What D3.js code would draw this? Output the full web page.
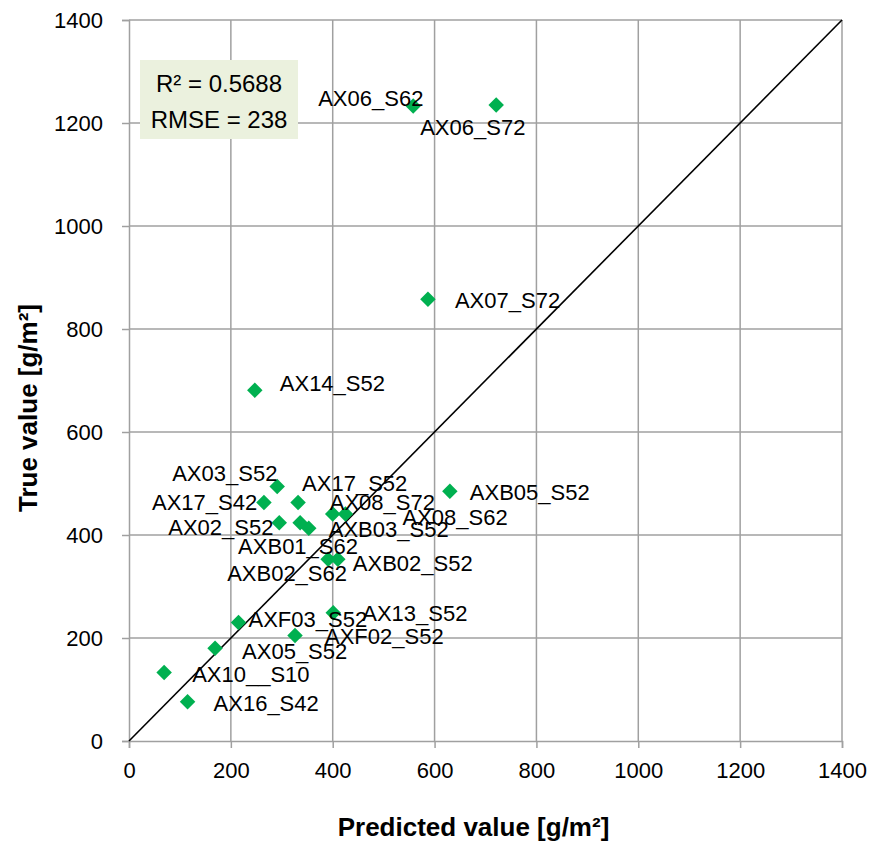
<!DOCTYPE html>
<html>
<head>
<meta charset="utf-8">
<script src="https://cdn.jsdelivr.net/npm/d3@7"></script>
<style>
  html, body { margin: 0; padding: 0; background: #fff; }
  svg text { font-family: "Liberation Sans", Arial, sans-serif; fill: #000; }
</style>
</head>
<body>
<svg id="chart" width="871" height="843"></svg>
<script>
// Sample identifiers, model predictions and measured values (g/m²)
const sampleNames = [
  "AX06_S62", "AX06_S72", "AX07_S72", "AX14_S52", "AX03_S52", "AX17_S42", "AX17_S52",
  "AX02_S52", "AXB01_S62", "AXB03_S52", "AX08_S72", "AX08_S62", "AXB05_S52",
  "AXB02_S62", "AXB02_S52", "AX13_S52", "AXF03_S52", "AXF02_S52", "AX05_S52",
  "AX10__S10", "AX16_S42"
];
const predictedValues = [
  558, 721, 587, 247, 291, 265, 332,
  295, 336, 353, 400, 425, 630,
  391, 410, 401, 215, 326, 169,
  69, 115
];
const trueValues = [
  1233, 1235, 858, 681, 494, 463, 463,
  424, 424, 413, 441, 441, 485,
  353, 353, 249, 230, 205, 180,
  133, 76
];
const tickValues = [0, 200, 400, 600, 800, 1000, 1200, 1400];
const statsLines = ["R² = 0.5688", "RMSE = 238"];
const xTitle = "Predicted value [g/m²]";
const yTitle = "True value [g/m²]";

// Hand-placed label offsets (px) relative to each marker, to keep the crowded cluster readable
const labelOffset = {
  "AX06_S62": [-95, -8], "AX06_S72": [-76, 22], "AX07_S72": [27, 1], "AX14_S52": [25, -7],
  "AX03_S52": [-105, -14], "AX17_S42": [-112, 0], "AX17_S52": [4, -19], "AX02_S52": [-111, 4],
  "AXB01_S62": [-62, 23], "AXB03_S52": [20, 1], "AX08_S72": [-3, -12], "AX08_S62": [57, 3],
  "AXB05_S52": [20, 1], "AXB02_S62": [-101, 14], "AXB02_S52": [15, 4], "AX13_S52": [29, 0],
  "AXF03_S52": [10, -3], "AXF02_S52": [30, 1], "AX05_S52": [27, 3], "AX10__S10": [28, 2],
  "AX16_S42": [26, 1]
};

const points = sampleNames.map((name, i) => ({ name, pred: predictedValues[i], obs: trueValues[i] }));

const svg = d3.select("#chart");
const margin = { left: 129, right: 29, top: 20, bottom: 102 };
const W = 871, H = 843;
const x = d3.scaleLinear().domain([0, 1400]).range([margin.left, W - margin.right]);
const y = d3.scaleLinear().domain([0, 1400]).range([H - margin.bottom, margin.top]);

const gridColor = "#a0a0a0";

// Gridlines
const grid = svg.append("g");
grid.selectAll(".gx").data(tickValues.slice(1)).join("line")
  .attr("x1", d => x(d)).attr("x2", d => x(d))
  .attr("y1", y(0)).attr("y2", y(1400))
  .attr("stroke", gridColor).attr("stroke-width", 1.5);
grid.selectAll(".gy").data(tickValues.slice(1)).join("line")
  .attr("x1", x(0)).attr("x2", x(1400))
  .attr("y1", d => y(d)).attr("y2", d => y(d))
  .attr("stroke", gridColor).attr("stroke-width", 1.5);

// Axes
const xAxis = svg.append("g").attr("transform", `translate(0,${y(0)})`)
  .call(d3.axisBottom(x).tickValues(tickValues).tickSize(7).tickPadding(14).tickFormat(d3.format("d")));
const yAxis = svg.append("g").attr("transform", `translate(${x(0)},0)`)
  .call(d3.axisLeft(y).tickValues(tickValues).tickSize(7).tickPadding(19).tickFormat(d3.format("d")));
[xAxis, yAxis].forEach(a => {
  a.select(".domain").attr("stroke", gridColor).attr("stroke-width", 1.5);
  a.selectAll(".tick line").attr("stroke", gridColor).attr("stroke-width", 1.5);
  a.selectAll(".tick text").attr("font-size", 22).attr("font-family", "Liberation Sans, Arial, sans-serif").attr("fill", "#000");
});

// 1:1 reference line
svg.append("line")
  .attr("x1", x(0)).attr("y1", y(0)).attr("x2", x(1400)).attr("y2", y(1400))
  .attr("stroke", "#000").attr("stroke-width", 1.6);

// Markers (diamonds)
const diamond = d3.symbol().type(d3.symbolSquare).size(120);
svg.append("g").selectAll("path").data(points).join("path")
  .attr("d", diamond)
  .attr("transform", d => `translate(${x(d.pred)},${y(d.obs)}) rotate(45)`)
  .attr("fill", "#00b050");

// Point labels
svg.append("g").selectAll("text").data(points).join("text")
  .attr("x", d => x(d.pred) + labelOffset[d.name][0])
  .attr("y", d => y(d.obs) + labelOffset[d.name][1])
  .attr("dy", "0.36em")
  .attr("font-size", 22)
  .text(d => d.name);

// Statistics box
const box = svg.append("g");
box.append("rect").attr("x", 140).attr("y", 60).attr("width", 158).attr("height", 79).attr("fill", "#ebf1de");
box.selectAll("text").data(statsLines).join("text")
  .attr("x", 219).attr("y", (d, i) => 83 + i * 36).attr("dy", "0.36em")
  .attr("text-anchor", "middle").attr("font-size", 24)
  .text(d => d);

// Axis titles
svg.append("text")
  .attr("x", (x(0) + x(1400)) / 2 - 12).attr("y", 836)
  .attr("text-anchor", "middle").attr("font-size", 26).attr("font-weight", "bold")
  .text(xTitle);
svg.append("text")
  .attr("transform", `translate(37,${408}) rotate(-90)`)
  .attr("text-anchor", "middle").attr("font-size", 26).attr("font-weight", "bold")
  .text(yTitle);
</script>
</body>
</html>
